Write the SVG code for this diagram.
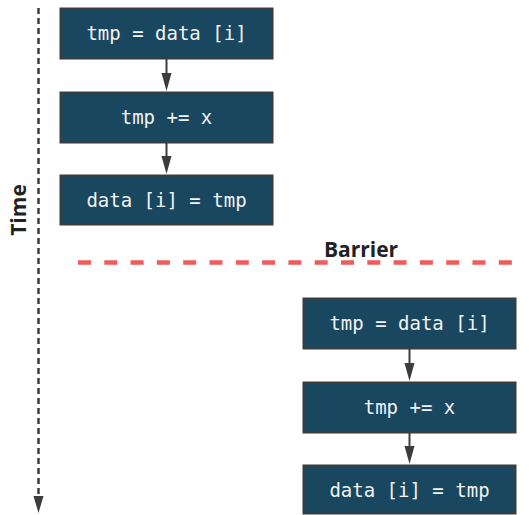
<svg xmlns="http://www.w3.org/2000/svg" width="529" height="515" viewBox="0 0 529 515">
  <defs>
    <style>
      .box rect { fill: #1a4760; stroke: #3c3c3c; stroke-width: 2; }
      .box text { font-family: "DejaVu Sans Mono", "Liberation Mono", monospace; font-size: 19px; fill: #f2f2f2; text-anchor: middle; }
      .conn { stroke: #3c3c3c; stroke-width: 2; fill: none; }
      .head { fill: #3c3c3c; }
      .label { font-family: "Open Sans", "Liberation Sans", sans-serif; font-weight: 700; font-size: 21px; fill: #222; }
    </style>
  </defs>

  <!-- time axis -->
  <g id="time-axis">
    <line x1="38.5" y1="8" x2="38.5" y2="496" stroke="#3c3c3c" stroke-width="2.5" stroke-dasharray="6 4"/>
    <path class="head" d="M33.5,496 L43.5,496 L38.5,513 Z"/>
    <text class="label" transform="translate(26,210) rotate(-90)" text-anchor="middle">Time</text>
  </g>

  <!-- barrier -->
  <g id="barrier">
    <line x1="78" y1="262.5" x2="520" y2="262.5" stroke="#f05a5a" stroke-width="4.5" stroke-dasharray="13 13.3"/>
    <text class="label" x="361" y="257" text-anchor="middle">Barrier</text>
  </g>

  <!-- connectors -->
  <g id="connectors">
    <line class="conn" x1="166.5" y1="58" x2="166.5" y2="74"/>
    <path class="head" d="M161.5,73 L171.5,73 L166.5,91 Z"/>
    <line class="conn" x1="166.5" y1="142" x2="166.5" y2="157"/>
    <path class="head" d="M161.5,156 L171.5,156 L166.5,174 Z"/>
    <line class="conn" x1="409.5" y1="348" x2="409.5" y2="364"/>
    <path class="head" d="M404.5,363 L414.5,363 L409.5,381 Z"/>
    <line class="conn" x1="409.5" y1="432" x2="409.5" y2="447"/>
    <path class="head" d="M404.5,446 L414.5,446 L409.5,464 Z"/>
  </g>

  <!-- thread A -->
  <g id="a-load" class="box">
    <rect x="60.5" y="8.5" width="212" height="50"/>
    <text x="166.5" y="40">tmp = data [i]</text>
  </g>
  <g id="a-add" class="box">
    <rect x="60.5" y="92.5" width="212" height="50"/>
    <text x="166.5" y="124">tmp += x</text>
  </g>
  <g id="a-store" class="box">
    <rect x="60.5" y="175.5" width="212" height="49"/>
    <text x="166.5" y="207">data [i] = tmp</text>
  </g>

  <!-- thread B -->
  <g id="b-load" class="box">
    <rect x="303.5" y="298.5" width="212" height="50"/>
    <text x="409.5" y="330">tmp = data [i]</text>
  </g>
  <g id="b-add" class="box">
    <rect x="303.5" y="382.5" width="212" height="50"/>
    <text x="409.5" y="414">tmp += x</text>
  </g>
  <g id="b-store" class="box">
    <rect x="303.5" y="465.5" width="212" height="48"/>
    <text x="409.5" y="497">data [i] = tmp</text>
  </g>
</svg>
